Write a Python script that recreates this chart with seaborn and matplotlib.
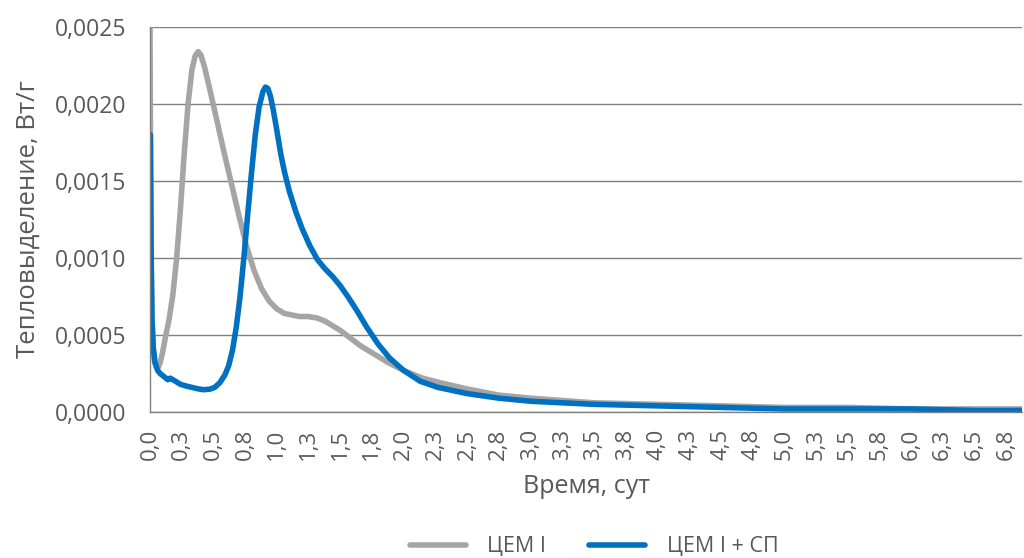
import matplotlib.pyplot as plt
import matplotlib.ticker as mticker
import seaborn as sns

# Время, сут / тепловыделение, Вт/г
t_cem = [0.0, 0.004, 0.008, 0.015, 0.025, 0.035, 0.05, 0.065, 0.08, 0.10, 0.12, 0.15, 0.18,
         0.21, 0.24, 0.27, 0.30, 0.33, 0.355, 0.38, 0.40, 0.43, 0.47, 0.52, 0.58, 0.64,
         0.70, 0.76, 0.82, 0.88, 0.94, 1.00, 1.06, 1.12, 1.18, 1.25, 1.32, 1.38, 1.44,
         1.50, 1.58, 1.66, 1.76, 1.88, 2.00, 2.15, 2.29, 2.50, 2.75, 3.00, 3.50, 4.00,
         4.50, 5.00, 5.50, 6.00, 6.50, 6.88]
q_cem = [0.00250, 0.00170, 0.00100, 0.00062, 0.00042, 0.00033, 0.00029, 0.00029, 0.00032,
         0.00039, 0.00048, 0.00060, 0.00076, 0.00100, 0.00132, 0.00168, 0.00200, 0.00222,
         0.00231, 0.00234, 0.00232, 0.00224, 0.00210, 0.00192, 0.00170, 0.00149, 0.00128,
         0.00108, 0.00092, 0.00080, 0.00072, 0.00067, 0.00064, 0.00063, 0.00062, 0.00062,
         0.00061, 0.00059, 0.00056, 0.00053, 0.00048, 0.00043, 0.00038, 0.00032, 0.00027,
         0.00022, 0.00019, 0.00015, 0.00011, 0.00009, 0.00006, 0.00005, 0.00004, 0.00003,
         0.00003, 0.00002, 0.00002, 0.00002]

t_cem_sp = [0.003, 0.008, 0.015, 0.025, 0.04, 0.06, 0.08, 0.11, 0.14, 0.16, 0.18, 0.20,
            0.24, 0.28, 0.32, 0.37, 0.42, 0.47, 0.51, 0.55, 0.59, 0.62, 0.65, 0.68, 0.71,
            0.74, 0.77, 0.80, 0.83, 0.86, 0.89, 0.91, 0.93, 0.95, 0.97, 1.00, 1.03, 1.06,
            1.10, 1.15, 1.20, 1.26, 1.32, 1.38, 1.44, 1.50, 1.56, 1.63, 1.71, 1.80, 1.89,
            2.00, 2.13, 2.27, 2.50, 2.75, 3.00, 3.50, 4.00, 4.50, 5.00, 5.50, 6.00, 6.50,
            6.88]
q_cem_sp = [0.00180, 0.00110, 0.00062, 0.00042, 0.00032, 0.00027, 0.00025, 0.00023, 0.00021,
            0.00022, 0.00021, 0.00020, 0.00018, 0.00017, 0.000162, 0.000152, 0.000145,
            0.000148, 0.00016, 0.00019, 0.00024, 0.00030, 0.00040, 0.00055, 0.00075, 0.00100,
            0.00128, 0.00155, 0.00180, 0.00198, 0.00208, 0.00211, 0.00210, 0.00205, 0.00197,
            0.00183, 0.00168, 0.00156, 0.00143, 0.00130, 0.00119, 0.00108, 0.00099, 0.00093,
            0.00088, 0.00082, 0.00075, 0.00066, 0.00055, 0.00044, 0.00035, 0.00027, 0.00020,
            0.00016, 0.00012, 0.00009, 0.00007, 0.00005, 0.00004, 0.00003, 0.00002, 0.00002,
            0.00002, 0.00001, 0.00001]

x_ticks = [i * 0.25 for i in range(28)]
x_tick_labels = ['0,0', '0,3', '0,5', '0,8', '1,0', '1,3', '1,5', '1,8', '2,0', '2,3',
                 '2,5', '2,8', '3,0', '3,3', '3,5', '3,8', '4,0', '4,3', '4,5', '4,8',
                 '5,0', '5,3', '5,5', '5,8', '6,0', '6,3', '6,5', '6,8']

GREY = '#A5A5A5'
BLUE = '#0070C0'
TEXT = '#595959'

sns.set_style('white')
plt.rcParams['font.family'] = ['Open Sans', 'DejaVu Sans']

fig = plt.figure(figsize=(10.24, 5.58), dpi=100)
ax = fig.add_axes([0.1465, 0.2616, 0.852, 0.69])

sns.lineplot(x=t_cem, y=q_cem, sort=False, color=GREY, lw=4, ax=ax, label='ЦЕМ I')
sns.lineplot(x=t_cem_sp, y=q_cem_sp, sort=False, color=BLUE, lw=4, ax=ax, label='ЦЕМ I + СП')

ax.set_xlim(0, 6.88)
ax.set_ylim(0, 0.0025)
ax.set_yticks([0, 0.0005, 0.0010, 0.0015, 0.0020, 0.0025])
ax.yaxis.set_major_formatter(mticker.FuncFormatter(lambda v, p: f'{v:.4f}'.replace('.', ',')))
ax.set_xticks(x_ticks)
ax.set_xticklabels(x_tick_labels, rotation=90)
ax.xaxis.set_minor_locator(mticker.MultipleLocator(1.0))
ax.tick_params(axis='both', which='both', length=0, colors=TEXT)
ax.tick_params(axis='y', labelsize=16.5, pad=17)
ax.tick_params(axis='x', labelsize=16, pad=12)

ax.grid(axis='y', which='major', color='#808080', lw=1)
ax.grid(axis='x', which='minor', color='#808080', lw=1)
ax.grid(axis='x', which='major', visible=False)
for side in ['top', 'right']:
    ax.spines[side].set_visible(False)
for side in ['left', 'bottom']:
    ax.spines[side].set_color('#808080')
    ax.spines[side].set_linewidth(1)

ax.set_xlabel('Время, сут', fontsize=18, color=TEXT, labelpad=10)
ax.set_ylabel('Тепловыделение, Вт/г', fontsize=18.5, color=TEXT, labelpad=10)

handles, labels = ax.get_legend_handles_labels()
ax.get_legend().remove()
leg = fig.legend(handles, labels, loc='center', bbox_to_anchor=(0.58, 0.02), ncol=2,
                 frameon=False, fontsize=15.5, handlelength=2.6, columnspacing=2.0,
                 handletextpad=1.0)
for txt in leg.get_texts():
    txt.set_color(TEXT)

fig.savefig('out.png', dpi=100)
